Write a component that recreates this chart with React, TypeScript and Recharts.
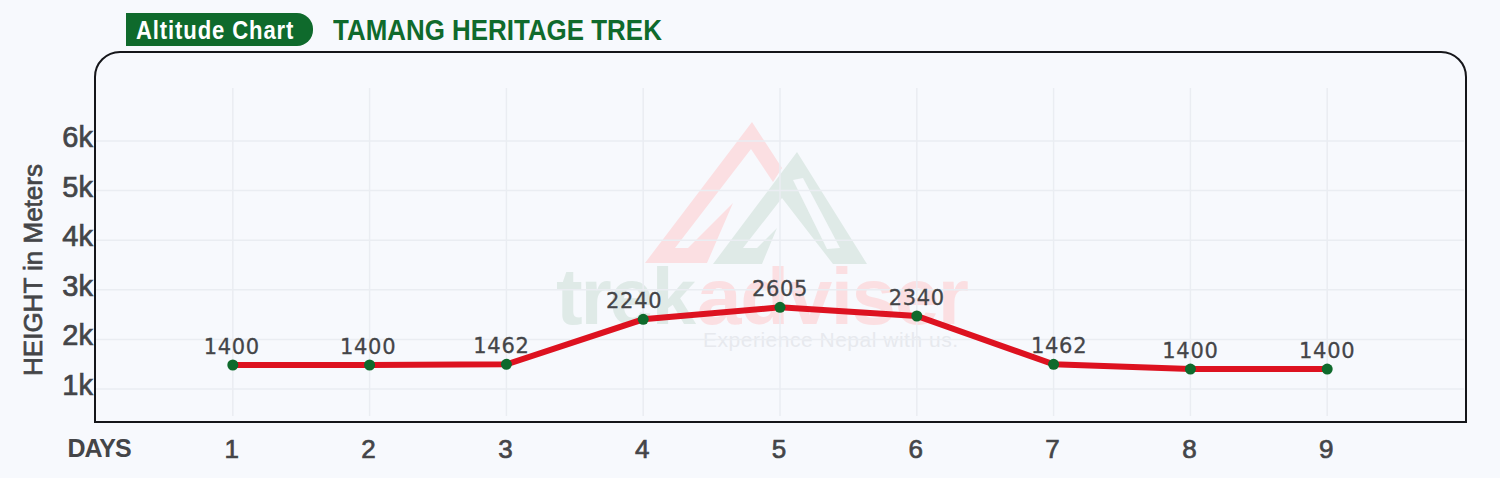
import { CartesianGrid, LabelList, Line, LineChart, XAxis, YAxis } from "recharts";

const days = [1, 2, 3, 4, 5, 6, 7, 8, 9];
// where the line is actually drawn
const plottedHeights = [1484, 1484, 1498, 2405, 2647, 2472, 1498, 1403, 1403];
// what the labels say (they do not quite match the line in the original)
const heightLabels = ["1400", "1400", "1462", "2240", "2605", "2340", "1462", "1400", "1400"];
const xTicks = [0, 1, 2, 3, 4, 5, 6, 7, 8, 9];
const yTicks = [1000, 2000, 3000, 4000, 5000, 6000];

const labelNudgeX = [-1, -1.5, -5, -9, 0, 0, 5.5, 0, 0];

const data = days.map((day, i) => ({
  day,
  height: plottedHeights[i],
  label: heightLabels[i],
}));

const SANS = '"Liberation Sans", Arial, sans-serif';
const GREEN = "#0f6a2c";
const TEXT = "#444548";

function DayTick({ x, y, payload }: any) {
  if (payload.value === 0) {
    return (
      <text x={x + 3} y={y + 33} textAnchor="middle" fontFamily={SANS} fontWeight={700} fontSize={25} letterSpacing={-1} fill={TEXT}>
        DAYS
      </text>
    );
  }
  return (
    <text x={x - 1} y={y + 34} textAnchor="middle" fontFamily={SANS} fontSize={26} stroke={TEXT} strokeWidth={0.7} fill={TEXT}>
      {payload.value}
    </text>
  );
}

function HeightTick({ y, payload }: any) {
  return (
    <text x={93} y={y + 6} textAnchor="end" fontFamily={SANS} fontSize={29} stroke={TEXT} strokeWidth={0.7} fill={TEXT}>
      {payload.value / 1000}k
    </text>
  );
}

function PointLabel({ x, y, value, index }: any) {
  return (
    <text
      x={x + labelNudgeX[index]}
      y={y - 11}
      textAnchor="middle"
      fontFamily='"DejaVu Sans", sans-serif'
      fontSize={21}
      letterSpacing={0.7}
      stroke={TEXT}
      strokeWidth={0.3}
      fill={TEXT}
    >
      {value}
    </text>
  );
}

function Watermark() {
  return (
    <svg width={1500} height={478} style={{ position: "absolute", left: 0, top: 0 }}>
      <polygon
        points="752,122 782,168 773,182 751,149 675,248 688,248 733,203 707,263 645,263"
        fill="#fbdfe2"
      />
      <polygon
        points="797,152 867,264 833,264 782,198 743,248 757,248 777,228 762,264 713,264"
        fill="#dfeae7"
      />
      <polygon points="793,180 803,178 840,248 827,249" fill="#f7f9fd" />
      <text x={556} y={324} fontFamily={SANS} fontWeight={700} fontSize={80} fill="#dfeae7" textLength={140}>
        trek
      </text>
      <text x={697} y={324} fontFamily={SANS} fontWeight={700} fontSize={80} fill="#fbdfe2" textLength={272}>
        adviser
      </text>
      <text x={703} y={347} fontFamily={SANS} fontSize={21} fill="#e7e9ee" textLength={255}>
        Experience Nepal with us.
      </text>
    </svg>
  );
}

export default function App() {
  return (
    <div style={{ position: "absolute", left: 0, top: 0, width: 1500, height: 478, background: "#f7f9fd", overflow: "hidden" }}>
      <Watermark />

      <div
        style={{
          position: "absolute",
          left: 126,
          top: 13,
          width: 187,
          height: 33,
          background: GREEN,
          borderRadius: "0 16px 16px 0",
        }}
      />
      <div
        style={{
          position: "absolute",
          left: 136,
          top: 13,
          color: "#fff",
          fontFamily: SANS,
          fontWeight: 700,
          fontSize: 25,
          lineHeight: "35px",
          letterSpacing: 1,
          whiteSpace: "nowrap",
          transform: "scaleX(0.883)",
          transformOrigin: "left center",
        }}
      >
        Altitude Chart
      </div>
      <div
        style={{
          position: "absolute",
          left: 333,
          top: 13,
          color: GREEN,
          fontFamily: SANS,
          fontWeight: 700,
          fontSize: 29,
          lineHeight: "35px",
          whiteSpace: "nowrap",
          transform: "scaleX(0.894)",
          transformOrigin: "left center",
        }}
      >
        TAMANG HERITAGE TREK
      </div>

      <div style={{ position: "absolute", left: 0, top: 0 }}>
        <LineChart width={1500} height={478} data={data} margin={{ top: 88, right: 36, bottom: 0, left: 0 }}>
          <CartesianGrid stroke="#eaedf2" strokeWidth={1.5} horizontalValues={yTicks} verticalValues={days} />
          <XAxis
            dataKey="day"
            type="number"
            domain={[0, 10]}
            ticks={xTicks}
            height={62}
            axisLine={false}
            tickLine={false}
            interval={0}
            tick={<DayTick />}
          />
          <YAxis
            type="number"
            domain={[456, 7068]}
            ticks={yTicks}
            width={96}
            axisLine={false}
            tickLine={false}
            tick={<HeightTick />}
            label={{
              value: "HEIGHT in Meters",
              angle: -90,
              position: "insideLeft",
              dx: 28,
              dy: 18,
              style: { fontFamily: SANS, fontSize: 26, fill: TEXT, stroke: TEXT, strokeWidth: 0.7, textAnchor: "middle" },
            }}
          />
          <Line
            dataKey="height"
            type="linear"
            stroke="#dd1220"
            strokeWidth={6}
            dot={{ r: 5.5, fill: GREEN, stroke: GREEN, strokeWidth: 0 }}
            isAnimationActive={false}
          >
            <LabelList dataKey="label" content={<PointLabel />} />
          </Line>
        </LineChart>
      </div>

      <div
        style={{
          position: "absolute",
          left: 94,
          top: 51,
          width: 1373,
          height: 372,
          boxSizing: "border-box",
          border: "2px solid #15161a",
          borderRadius: "26px 26px 0 0",
          pointerEvents: "none",
        }}
      />
    </div>
  );
}
